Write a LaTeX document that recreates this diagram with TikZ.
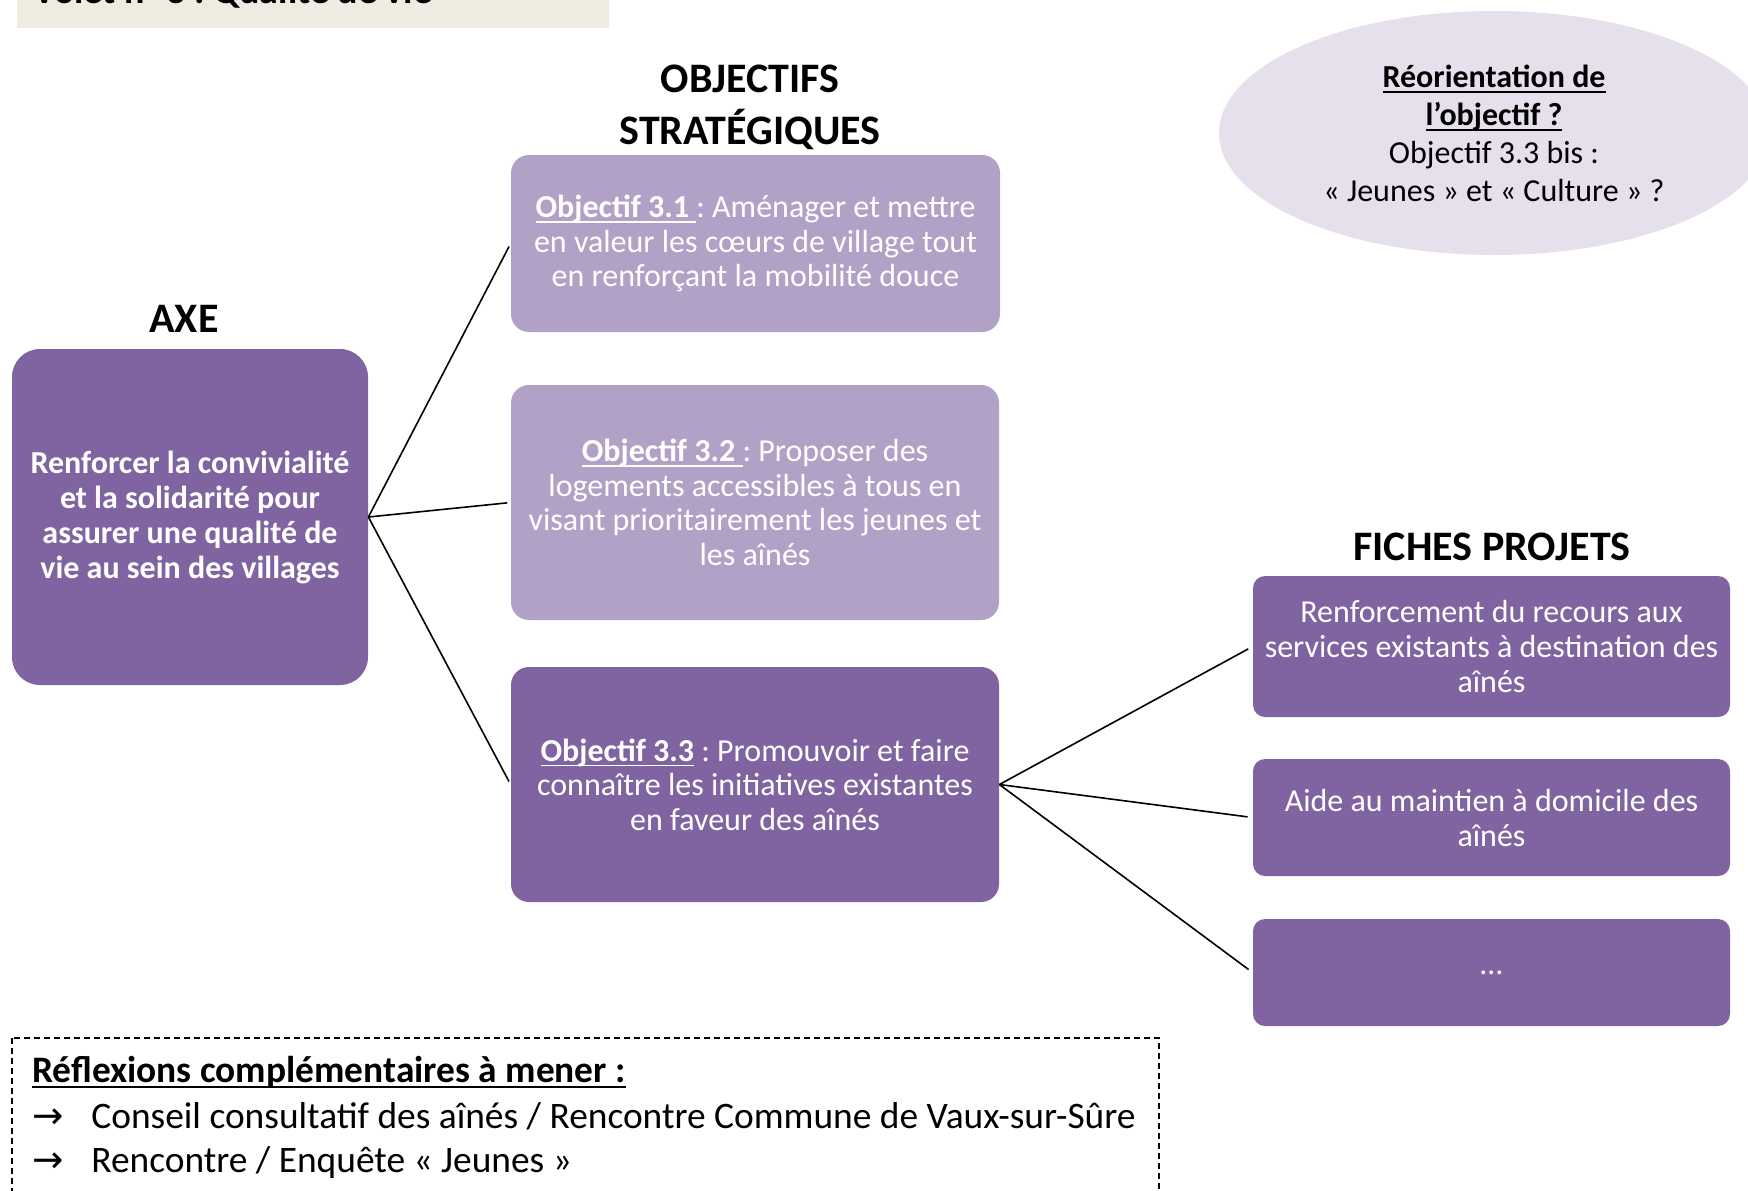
\documentclass[tikz,border=0pt]{standalone}
\usepackage{fontspec}
\setmainfont{Carlito}
\newfontfamily\symfont{DejaVu Sans}
\newbox\myulbox
\newcommand{\myul}[1]{\setbox\myulbox\hbox{#1}\rlap{\vrule width\wd\myulbox height -0.11em depth 0.17em}\box\myulbox}
\usetikzlibrary{shapes.geometric}
\definecolor{dpurple}{HTML}{8064A2}
\definecolor{lpurple}{HTML}{B2A1C7}
\definecolor{lav}{HTML}{E5E0EC}
\definecolor{beige}{HTML}{EEEBE1}
\begin{document}
\frenchspacing
\begin{tikzpicture}[x=0.5pt,y=-0.5pt,
  box/.style={draw=none, fill=#1, text=white, align=center, inner sep=0pt},
  hdr/.style={font=\bfseries\fontsize{21}{26}\selectfont, align=center, inner sep=0pt, anchor=base},
  objfont/.style={font=\fontsize{16}{17.3}\selectfont},
  fichefont/.style={font=\fontsize{16}{17.5}\selectfont},
  conn/.style={draw=black, line width=0.8pt},
  notefont/.style={font=\fontsize{18.7}{22}\selectfont, anchor=base west, inner sep=0pt}]
\clip (0,0) rectangle (1748,1190);
\fill[white] (0,0) rectangle (1748,1190);
% title
\fill[beige] (17,-10) rectangle (609,28);
\node[anchor=base west, inner sep=0pt, font=\bfseries\fontsize{19}{23}\selectfont] (title) at (33,3) {Volet n° 3 : Qualité de vie};
% headers
\node[hdr] (haxe) at (184,332) {AXE};
\node[hdr] (hobj) at (750,144) {OBJECTIFS\\STRATÉGIQUES};
\node[hdr] (hfp) at (1492,560) {FICHES PROJETS};
% axe
\node[box=dpurple, rounded corners=14pt, minimum width=178pt, minimum height=168pt,
  font=\bfseries\fontsize{16}{17.5}\selectfont] (axe) at (190,517)
  {Renforcer la convivialité\\et la solidarité pour\\assurer une qualité de\\vie au sein des villages};
% objectives
\node[box=lpurple, rounded corners=9pt, minimum width=244.5pt, minimum height=88.5pt, objfont] (o1) at (755.5,243.5)
  {\myul{\textbf{Objectif 3.1} }: Aménager et mettre\\en valeur les cœurs de village tout\\en renforçant la mobilité douce};
\node[box=lpurple, rounded corners=9pt, minimum width=244pt, minimum height=117.5pt, objfont] (o2) at (755,502.5)
  {\myul{\textbf{Objectif 3.2} }: Proposer des\\logements accessibles à tous en\\visant prioritairement les jeunes et\\les aînés};
\node[box=dpurple, rounded corners=9pt, minimum width=244pt, minimum height=117.5pt, objfont] (o3) at (755,784.5)
  {\myul{\textbf{Objectif 3.3}} : Promouvoir et faire\\connaître les initiatives existantes\\en faveur des aînés};
% fiches
\node[box=dpurple, rounded corners=6pt, minimum width=238.5pt, minimum height=70.5pt, fichefont] (f1) at (1491.5,646.5)
  {Renforcement du recours aux\\services existants à destination des\\aînés};
\node[box=dpurple, rounded corners=6pt, minimum width=238.5pt, minimum height=58.5pt, fichefont] (f2) at (1491.5,817.5)
  {Aide au maintien à domicile des\\aînés};
\node[box=dpurple, rounded corners=6pt, minimum width=238.5pt, minimum height=53.5pt, fichefont] (f3) at (1491.5,972.5)
  {…};
% ellipse
\node[ellipse, fill=lav, draw=none, minimum width=275pt, minimum height=122pt, inner sep=0pt, align=center,
  font=\fontsize{16}{19}\selectfont] (ell) at (1494,133)
  {\myul{\textbf{Réorientation de}}\\\myul{\textbf{l’objectif ?}}\\Objectif 3.3 bis :\\« Jeunes » et « Culture » ?};
% connectors
\draw[conn, shorten >=1.7pt] (axe.east) -- (o1.west);
\draw[conn, shorten >=1.7pt] (axe.east) -- (o2.west);
\draw[conn, shorten >=1.7pt] (axe.east) -- (o3.west);
\draw[conn, shorten >=2.5pt] (o3.east) -- (f1.west);
\draw[conn, shorten >=2.5pt] (o3.east) -- (f2.west);
\draw[conn, shorten >=2.5pt] (o3.east) -- (f3.west);
% notes
\draw[line width=0.9pt, dash pattern=on 3pt off 2pt] (12,1038) rectangle (1159,1215);
\node[notefont, font=\bfseries\fontsize{18.7}{22}\selectfont] (rt) at (32,1082) {\myul{Réflexions complémentaires à mener :}};
\node[notefont] (a1) at (32,1128) {{\symfont →}};
\node[notefont] (l1) at (91,1128) {Conseil consultatif des aînés / Rencontre Commune de Vaux-sur-Sûre};
\node[notefont] (a2) at (32,1172) {{\symfont →}};
\node[notefont] (l2) at (91,1172) {Rencontre / Enquête « Jeunes »};
\end{tikzpicture}
\end{document}
